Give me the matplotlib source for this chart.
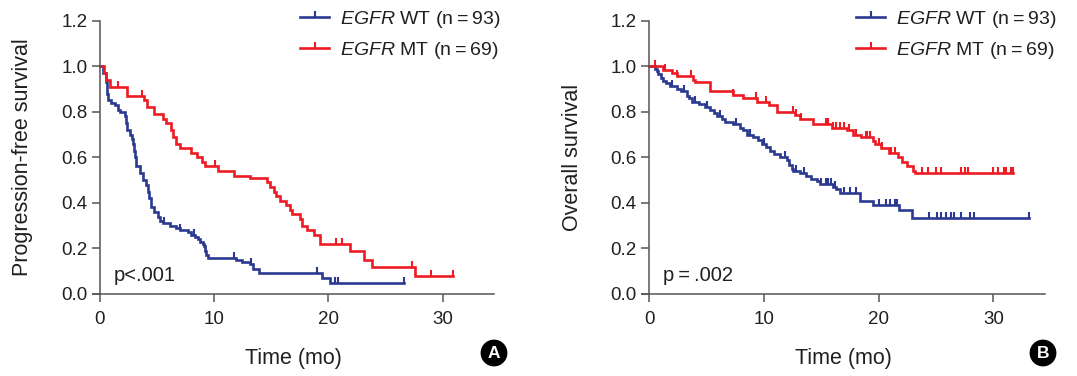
import numpy as np
import matplotlib
matplotlib.use("Agg")
import matplotlib.pyplot as plt
from matplotlib.lines import Line2D

plt.rcParams['font.family'] = ['Liberation Sans', 'DejaVu Sans']
plt.rcParams['mathtext.fontset'] = 'custom'
plt.rcParams['mathtext.it'] = 'Liberation Sans:italic'
plt.rcParams['mathtext.rm'] = 'Liberation Sans'

BLUE = '#2b3990'
RED = '#ed1c24'
INK = '#231f20'

# --- Panel A: progression-free survival ---
pfs_wt_t = [0, 0.3, 0.5, 0.6, 0.7, 1.0, 1.3, 1.6, 1.8, 2.2, 2.3, 2.4, 2.6, 2.8, 2.9, 3.0, 3.1, 3.2,
            3.5, 3.8, 4.0, 4.2, 4.3, 4.5, 4.7, 5.1, 5.3, 5.5, 6.1, 6.7, 7.0, 7.7, 8.0, 8.3, 8.6,
            8.8, 9.0, 9.1, 9.2, 9.3, 9.45, 11.9, 12.4, 13.1, 13.4, 13.9, 19.4, 20.1]
pfs_wt_s = [1.0, 0.97, 0.93, 0.88, 0.85, 0.84, 0.83, 0.81, 0.80, 0.78, 0.75, 0.72, 0.70, 0.68, 0.66,
            0.63, 0.60, 0.56, 0.53, 0.50, 0.48, 0.45, 0.42, 0.38, 0.36, 0.34, 0.32, 0.31, 0.30, 0.29,
            0.28, 0.27, 0.26, 0.25, 0.24, 0.23, 0.22, 0.21, 0.19, 0.17, 0.16, 0.15, 0.14, 0.13, 0.11,
            0.09, 0.07, 0.05]
pfs_wt_end = 26.6
pfs_wt_cens = [5.6, 7.0, 8.2, 11.7, 13.2, 19.0, 20.6, 20.85, 26.6]

pfs_mt_t = [0, 0.35, 0.5, 0.9, 2.4, 3.85, 4.1, 4.7, 5.5, 5.8, 6.2, 6.4, 6.65, 7.0, 8.0, 8.5, 8.9,
            9.2, 10.3, 11.7, 13.1, 14.6, 14.9, 15.2, 15.4, 15.8, 16.3, 16.6, 16.8, 17.5, 17.7, 18.1,
            18.7, 19.3, 21.9, 23.1, 23.8, 27.6]
pfs_mt_s = [1.0, 0.97, 0.94, 0.91, 0.87, 0.85, 0.82, 0.79, 0.77, 0.75, 0.72, 0.69, 0.66, 0.64, 0.62,
            0.60, 0.58, 0.56, 0.54, 0.52, 0.51, 0.49, 0.47, 0.45, 0.43, 0.41, 0.39, 0.37, 0.35, 0.33,
            0.30, 0.28, 0.26, 0.22, 0.19, 0.15, 0.12, 0.08]
pfs_mt_end = 30.9
pfs_mt_cens = [1.6, 3.7, 10.1, 20.65, 21.2, 27.3, 29.0, 30.9]

# --- Panel B: overall survival ---
os_wt_t = [0, 0.5, 0.65, 0.8, 1.0, 1.2, 1.45, 1.8, 2.4, 2.8, 3.25, 3.5, 3.7, 4.3, 4.85, 5.3, 5.6,
           5.9, 6.3, 6.6, 7.3, 7.9, 8.2, 8.5, 9.05, 9.5, 9.8, 10.2, 10.5, 10.9, 11.4, 12.0, 12.2,
           12.4, 12.5, 13.1, 13.7, 14.1, 14.6, 14.85, 16.0, 16.3, 16.6, 18.4, 19.5, 21.8, 22.9]
os_wt_s = [1.0, 0.99, 0.98, 0.965, 0.95, 0.935, 0.925, 0.915, 0.90, 0.89, 0.87, 0.86, 0.845, 0.835,
           0.82, 0.81, 0.795, 0.78, 0.77, 0.755, 0.745, 0.73, 0.72, 0.70, 0.69, 0.675, 0.66, 0.645,
           0.63, 0.615, 0.60, 0.59, 0.565, 0.55, 0.54, 0.53, 0.52, 0.505, 0.495, 0.485, 0.47, 0.46,
           0.445, 0.41, 0.39, 0.37, 0.335]
os_wt_end = 33.1
os_wt_cens = [2.0, 3.0, 4.0, 5.0, 6.2, 7.6, 8.8, 10.0, 11.8, 12.8, 13.5, 15.0, 15.4, 15.6, 15.8,
              16.2, 17.0, 17.5, 18.0, 20.0, 20.6, 21.0, 21.4, 21.6, 24.4, 25.1, 25.4, 25.9, 26.3,
              26.6, 27.2, 28.0, 28.3, 33.1]

os_mt_t = [0, 1.2, 1.95, 2.4, 3.8, 4.0, 5.3, 7.3, 8.2, 9.4, 10.4, 11.1, 12.7, 13.1, 14.3, 15.9,
           17.2, 17.75, 18.5, 19.5, 19.7, 20.2, 20.9, 21.7, 22.0, 22.5, 23.0, 23.2]
os_mt_s = [1.0, 0.985, 0.97, 0.955, 0.94, 0.93, 0.89, 0.875, 0.86, 0.845, 0.83, 0.80, 0.785, 0.77,
           0.745, 0.73, 0.72, 0.70, 0.69, 0.67, 0.66, 0.64, 0.62, 0.60, 0.58, 0.56, 0.54, 0.53]
os_mt_end = 31.7
os_mt_cens = [0.5, 1.4, 2.4, 3.6, 7.3, 9.3, 10.2, 12.5, 12.8, 13.2, 15.4, 15.6, 16.0, 16.3, 16.6,
              17.0, 17.4, 18.0, 18.9, 19.0, 19.2, 20.0, 20.3, 21.1, 21.4, 23.75, 24.3, 25.0, 25.4,
              27.2, 27.5, 27.8, 30.0, 30.4, 30.9, 31.1, 31.5, 31.7]

labels = ['$\\it{EGFR}$ WT (n\u2009=\u200993)', '$\\it{EGFR}$ MT (n\u2009=\u200969)']
x_ticks = [0, 10, 20, 30]
y_ticks = [0.0, 0.2, 0.4, 0.6, 0.8, 1.0, 1.2]

TICK_UP = [(0, 0), (0, 1)]


def km_curve(ax, t, s, end, cens, color):
    t = np.asarray(t)
    s = np.asarray(s)
    tt = np.append(t, end)
    ss = np.append(s, s[-1])
    ax.plot(tt, ss, drawstyle='steps-post', color=color, lw=1.9, solid_joinstyle='miter')
    idx = np.searchsorted(t, cens, side='right') - 1
    ax.plot(cens, s[idx], ls='none', marker=TICK_UP, ms=8, mew=1.5, mec=color, color=color)


def style_axes(ax, ylabel, ptext):
    ax.set_xlim(-0.6, 34.5)
    ax.set_ylim(0, 1.2)
    ax.spines['top'].set_visible(False)
    ax.spines['right'].set_visible(False)
    ax.spines['left'].set_position(('data', 0))
    for sp in ('left', 'bottom'):
        ax.spines[sp].set_color('#555555')
        ax.spines[sp].set_linewidth(1.1)
    ax.set_xticks(x_ticks)
    ax.set_yticks(y_ticks)
    ax.set_yticklabels([f'{v:.1f}' for v in y_ticks])
    ax.tick_params(direction='out', length=6, width=1.1, color='#555555',
                   labelsize=13.5, labelcolor=INK)
    ax.tick_params(axis='x', pad=6)
    ax.tick_params(axis='y', pad=3)
    ax.set_xlabel('Time (mo)', fontsize=15.5, color=INK, labelpad=15)
    ax.set_ylabel(ylabel, fontsize=15.5, color=INK, labelpad=20)
    ax.text(1.2, 0.08, ptext, fontsize=14.5, color=INK, va='center', ha='left')


fig = plt.figure(figsize=(10.77, 3.76), dpi=100)
axA = fig.add_axes([0.0864, 0.2181, 0.3723, 0.7269])
axB = fig.add_axes([0.5965, 0.2181, 0.3738, 0.7269])

km_curve(axA, pfs_wt_t, pfs_wt_s, pfs_wt_end, pfs_wt_cens, BLUE)
km_curve(axA, pfs_mt_t, pfs_mt_s, pfs_mt_end, pfs_mt_cens, RED)
style_axes(axA, 'Progression-free survival', 'p<.001')

km_curve(axB, os_wt_t, os_wt_s, os_wt_end, os_wt_cens, BLUE)
km_curve(axB, os_mt_t, os_mt_s, os_mt_end, os_mt_cens, RED)
style_axes(axB, 'Overall survival', 'p\u2009=\u2009.002')

handles = [Line2D([0, 0.5, 1], [0, 0, 0], color=c, lw=1.9, marker=TICK_UP, ms=8, mew=1.5,
                  markevery=[1])
           for c in (BLUE, RED)]

for ax, x0 in ((axA, 300 / 1077), (axB, 856 / 1077)):
    ax.legend(handles, labels, loc='upper left', bbox_to_anchor=(x0, 1 - 9 / 376),
              bbox_transform=fig.transFigure, frameon=False, fontsize=14,
              handlelength=1.5, handletextpad=0.55, labelspacing=0.5, borderpad=0.0,
              borderaxespad=0.0, labelcolor=INK)

for letter, x in (('A', 494 / 1077), ('B', 1043 / 1077)):
    fig.text(x, 1 - 353 / 376, letter, ha='center', va='center', color='white',
             fontsize=12.5, fontweight='bold',
             bbox=dict(boxstyle='circle,pad=0.3', fc='black', ec='black'))

fig.savefig('out.png', dpi=100)
